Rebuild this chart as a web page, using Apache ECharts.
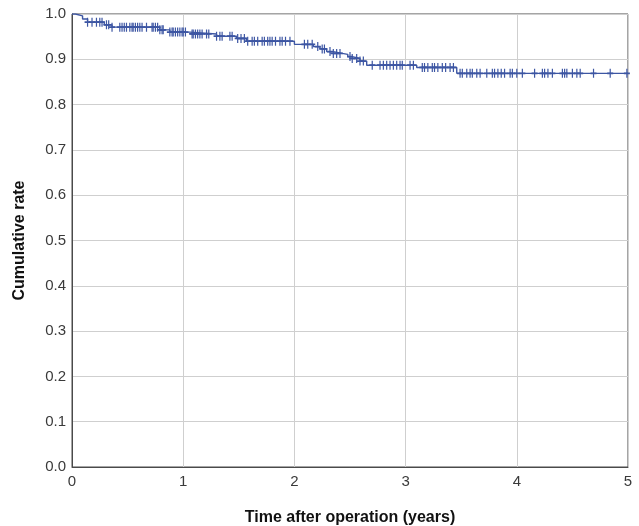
<!DOCTYPE html>
<html>
<head>
<meta charset="utf-8">
<script src="https://cdn.jsdelivr.net/npm/echarts@6/dist/echarts.min.js"></script>
<style>
  html, body { margin: 0; padding: 0; background: #fff; }
  #chart { width: 639px; height: 526px; }
</style>
</head>
<body>
<div id="chart"></div>
<script>
// Kaplan–Meier estimate: event times (years) and the survival level after each drop
const eventTimes = [0, 0.03, 0.095, 0.14, 0.29, 0.36, 0.79, 0.88, 1.06, 1.30, 1.48, 1.57,
  2.00, 2.17, 2.23, 2.29, 2.35, 2.43, 2.48, 2.52, 2.59, 2.65, 3.10, 3.46, 5.0];
const eventRates = [1.0, 0.996, 0.989, 0.982, 0.976, 0.971, 0.965, 0.960, 0.956, 0.951, 0.946, 0.940,
  0.933, 0.928, 0.923, 0.917, 0.913, 0.911, 0.906, 0.902, 0.896, 0.887, 0.882, 0.869, 0.869];

// Censored observations (years)
const censorTimes = [
  0.14, 0.18, 0.22, 0.25, 0.27, 0.31, 0.33, 0.36, 0.43, 0.45, 0.47, 0.49, 0.52, 0.54, 0.55,
  0.57, 0.59, 0.61, 0.63, 0.67, 0.72, 0.73, 0.75, 0.77, 0.79, 0.81, 0.82, 0.88, 0.90, 0.91,
  0.93, 0.95, 0.97, 0.99, 1.00, 1.02, 1.08, 1.09, 1.11, 1.13, 1.15, 1.17, 1.21, 1.23, 1.30,
  1.33, 1.35, 1.42, 1.44, 1.49, 1.52, 1.55, 1.58, 1.62, 1.64, 1.67, 1.71, 1.73, 1.76, 1.78,
  1.80, 1.83, 1.87, 1.89, 1.92, 1.96, 2.09, 2.12, 2.16, 2.21, 2.25, 2.27, 2.32, 2.35, 2.38,
  2.41, 2.50, 2.52, 2.56, 2.59, 2.62, 2.70, 2.77, 2.80, 2.83, 2.86, 2.89, 2.92, 2.95, 2.97,
  3.04, 3.07, 3.15, 3.17, 3.20, 3.24, 3.26, 3.29, 3.33, 3.36, 3.40, 3.43, 3.49, 3.51, 3.55,
  3.58, 3.60, 3.64, 3.67, 3.73, 3.78, 3.80, 3.83, 3.86, 3.89, 3.94, 3.96, 4.00, 4.05, 4.16,
  4.23, 4.25, 4.28, 4.32, 4.41, 4.43, 4.45, 4.50, 4.54, 4.57, 4.69, 4.84, 4.99
];

const xTicks = [0, 1, 2, 3, 4, 5];
const yTicks = [0, 0.1, 0.2, 0.3, 0.4, 0.5, 0.6, 0.7, 0.8, 0.9, 1.0];

const lineColor = '#3d56a3';

// Survival level in effect at time t (step function lookup)
function rateAt(t) {
  let r = eventRates[0];
  for (let i = 0; i < eventTimes.length; i++) {
    if (eventTimes[i] <= t + 1e-9) r = eventRates[i];
  }
  return r;
}

const curveData = eventTimes.map((t, i) => [t, eventRates[i]]);
const censorData = censorTimes.map(t => [t, rateAt(t)]);

const labelFont = { fontFamily: 'Liberation Sans, Arial, sans-serif', fontSize: 15, color: '#3a3a3a' };
const titleFont = { fontFamily: 'Liberation Sans, Arial, sans-serif', fontSize: 16, fontWeight: 'bold', color: '#111' };

const chart = echarts.init(document.getElementById('chart'), null, { renderer: 'canvas' });
chart.setOption({
  animation: false,
  backgroundColor: '#fff',
  grid: {
    left: 72, right: 11, top: 14, bottom: 59,
    containLabel: false, outerBoundsMode: 'none',
    show: true, borderColor: '#4a4a4a', borderWidth: 1, backgroundColor: 'transparent'
  },
  xAxis: {
    type: 'value', min: xTicks[0], max: xTicks[xTicks.length - 1], interval: 1,
    name: 'Time after operation (years)', nameLocation: 'middle', nameGap: 43,
    nameTextStyle: titleFont,
    axisLine: { show: true, lineStyle: { color: '#4a4a4a', width: 1 } },
    axisTick: { show: false },
    axisLabel: Object.assign({ margin: 7 }, labelFont),
    splitLine: { show: true, lineStyle: { color: '#cfcfcf', width: 1 } }
  },
  yAxis: {
    type: 'value', min: yTicks[0], max: yTicks[yTicks.length - 1], interval: 0.1,
    name: 'Cumulative rate', nameLocation: 'middle', nameGap: 44, nameRotate: 90,
    nameTextStyle: titleFont,
    axisLine: { show: true, lineStyle: { color: '#4a4a4a', width: 1 } },
    axisTick: { show: false },
    axisLabel: Object.assign({ margin: 6, formatter: v => v.toFixed(1) }, labelFont),
    splitLine: { show: true, lineStyle: { color: '#cfcfcf', width: 1 } }
  },
  series: [
    {
      type: 'line', step: 'end', data: curveData, showSymbol: false, symbol: 'none',
      lineStyle: { color: lineColor, width: 1.4 }, z: 3
    },
    {
      type: 'scatter', data: censorData,
      symbol: 'path://M2,0 H3 V2 H5 V3 H3 V5 H2 V3 H0 V2 H2 Z',
      symbolSize: [6, 9],
      itemStyle: { color: lineColor, opacity: 1 }, z: 4
    }
  ]
});
</script>
</body>
</html>
